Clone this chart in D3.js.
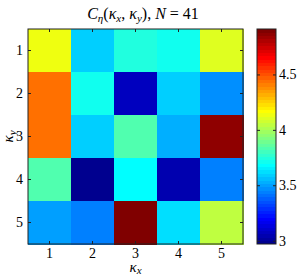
<!DOCTYPE html>
<html>
<head>
<meta charset="utf-8">
<script src="https://cdn.jsdelivr.net/npm/d3@7"></script>
<style>
  body { margin: 0; background: #fff; }
</style>
</head>
<body>
<div id="chart"></div>
<script>
// categories
const kx = [1, 2, 3, 4, 5];
const ky = [1, 2, 3, 4, 5];
// C_eta values, one row per ky
const row1 = [4.15, 3.59, 3.75, 3.70, 4.10];
const row2 = [4.43, 3.70, 3.09, 3.58, 3.46];
const row3 = [4.43, 3.59, 3.82, 3.53, 4.86];
const row4 = [3.84, 2.97, 3.67, 3.06, 3.43];
const row5 = [3.51, 3.43, 4.91, 3.61, 4.06];
const rows = [row1, row2, row3, row4, row5];
const cbTicks = [3, 3.5, 4, 4.5];

const W = 301, H = 276;
const margin = { top: 29, left: 28 },
  width = 215,
  height = 215;
const serif = "'Times New Roman', 'Liberation Serif', 'DejaVu Serif', serif";

const svg = d3.select('#chart').append('svg')
  .attr('width', W).attr('height', H)
  .style('font-family', serif);

// MATLAB jet(64)
function jet64() {
  const m = 64, n = 16;
  const u = [];
  for (let i = 1; i <= n; i++) u.push(i / n);
  for (let i = 0; i < n - 1; i++) u.push(1);
  for (let i = n; i >= 1; i--) u.push(i / n);
  const J = d3.range(m).map(() => [0, 0, 0]);
  const g0 = 8;
  u.forEach((val, k) => {
    const gi = g0 + k, ri = gi + n, bi = gi - n;
    if (gi >= 0 && gi < m) J[gi][1] = val;
    if (ri >= 0 && ri < m) J[ri][0] = val;
    if (bi >= 0 && bi < m) J[bi][2] = val;
  });
  return J.map(c => d3.rgb(c[0] * 255, c[1] * 255, c[2] * 255).toString());
}
const cmap = jet64();

const all = rows.flat();
const vmin = d3.min(all), vmax = d3.max(all);
const colorOf = v => {
  let i = Math.floor((v - vmin) / (vmax - vmin) * 64);
  i = Math.max(0, Math.min(63, i));
  return cmap[i];
};

const x = d3.scaleBand().domain(kx).range([margin.left, margin.left + width]).padding(0);
const y = d3.scaleBand().domain(ky).range([margin.top, margin.top + height]).padding(0);

const cells = [];
rows.forEach((r, j) => r.forEach((v, i) => cells.push({ kx: kx[i], ky: ky[j], v })));

svg.append('g').selectAll('rect').data(cells).enter().append('rect')
  .attr('x', d => x(d.kx)).attr('y', d => y(d.ky))
  .attr('width', x.bandwidth() + 0.5).attr('height', y.bandwidth() + 0.5)
  .attr('fill', d => colorOf(d.v))
  .attr('shape-rendering', 'crispEdges');

// axes box with inward ticks
const tickLen = 3;
const fs = 14;
const xAxisB = svg.append('g').attr('transform', `translate(0,${margin.top + height})`)
  .call(d3.axisBottom(x).tickSizeInner(-tickLen).tickSizeOuter(0).tickPadding(4));
const xAxisT = svg.append('g').attr('transform', `translate(0,${margin.top})`)
  .call(d3.axisTop(x).tickSizeInner(-tickLen).tickSizeOuter(0).tickFormat(''));
const yAxisL = svg.append('g').attr('transform', `translate(${margin.left},0)`)
  .call(d3.axisLeft(y).tickSizeInner(-tickLen).tickSizeOuter(0).tickPadding(5));
const yAxisR = svg.append('g').attr('transform', `translate(${margin.left + width},0)`)
  .call(d3.axisRight(y).tickSizeInner(-tickLen).tickSizeOuter(0).tickFormat(''));

// colorbar
const cb = { x: 257, w: 19 };
const cy = d3.scaleLinear().domain([vmin, vmax]).range([margin.top + height, margin.top]);
svg.append('g').selectAll('rect').data(cmap).enter().append('rect')
  .attr('x', cb.x)
  .attr('y', (c, i) => cy(vmin + (i + 1) / 64 * (vmax - vmin)))
  .attr('width', cb.w)
  .attr('height', height / 64 + 0.4)
  .attr('fill', c => c)
  .attr('shape-rendering', 'crispEdges');
const cbAxisR = svg.append('g').attr('transform', `translate(${cb.x + cb.w},0)`)
  .call(d3.axisRight(cy).tickValues(cbTicks).tickSizeInner(-tickLen).tickSizeOuter(0).tickPadding(3).tickFormat(d3.format('')));
const cbAxisL = svg.append('g').attr('transform', `translate(${cb.x},0)`)
  .call(d3.axisLeft(cy).tickValues(cbTicks).tickSizeInner(-tickLen).tickSizeOuter(0).tickFormat(''));

[xAxisB, xAxisT, yAxisL, yAxisR, cbAxisR, cbAxisL].forEach(a => {
  a.attr('font-family', null).style('font-family', serif);
  a.select('.domain').remove();
  a.selectAll('line').attr('stroke', '#222');
  a.selectAll('text').attr('font-size', fs).style('font-family', serif).attr('fill', '#000');
});

svg.append('rect')
  .attr('x', margin.left).attr('y', margin.top)
  .attr('width', width).attr('height', height)
  .attr('fill', 'none').attr('stroke', '#222').attr('stroke-width', 1);
svg.append('rect')
  .attr('x', cb.x).attr('y', margin.top)
  .attr('width', cb.w).attr('height', height)
  .attr('fill', 'none').attr('stroke', '#222');

// title
const title = svg.append('text')
  .attr('x', 143).attr('y', 19)
  .style('font-family', serif)
  .attr('text-anchor', 'middle').attr('font-size', 16).attr('font-style', 'italic');
title.append('tspan').text('C');
title.append('tspan').attr('font-size', 11).attr('dy', 3).text('η');
title.append('tspan').attr('dy', -3).attr('font-style', 'normal').text('(');
title.append('tspan').text('κ');
title.append('tspan').attr('font-size', 11).attr('dy', 3).text('x');
title.append('tspan').attr('dy', -3).attr('font-style', 'normal').text(', ');
title.append('tspan').text('κ');
title.append('tspan').attr('font-size', 11).attr('dy', 3).text('y');
title.append('tspan').attr('dy', -3).attr('font-style', 'normal').text('), ');
title.append('tspan').text('N');
title.append('tspan').attr('font-style', 'normal').text(' = 41');

// axis labels
const xl = svg.append('text')
  .attr('x', margin.left + width / 2).attr('y', 272)
  .style('font-family', serif)
  .attr('text-anchor', 'middle').attr('font-size', 15).attr('font-style', 'italic');
xl.append('tspan').text('κ');
xl.append('tspan').attr('font-size', 11).attr('dy', 2).text('x');

const yl = svg.append('text')
  .attr('transform', `translate(13,${margin.top + height / 2}) rotate(-90)`)
  .style('font-family', serif)
  .attr('text-anchor', 'middle').attr('font-size', 15).attr('font-style', 'italic');
yl.append('tspan').text('κ');
yl.append('tspan').attr('font-size', 11).attr('dy', 3).text('y');
</script>
</body>
</html>
